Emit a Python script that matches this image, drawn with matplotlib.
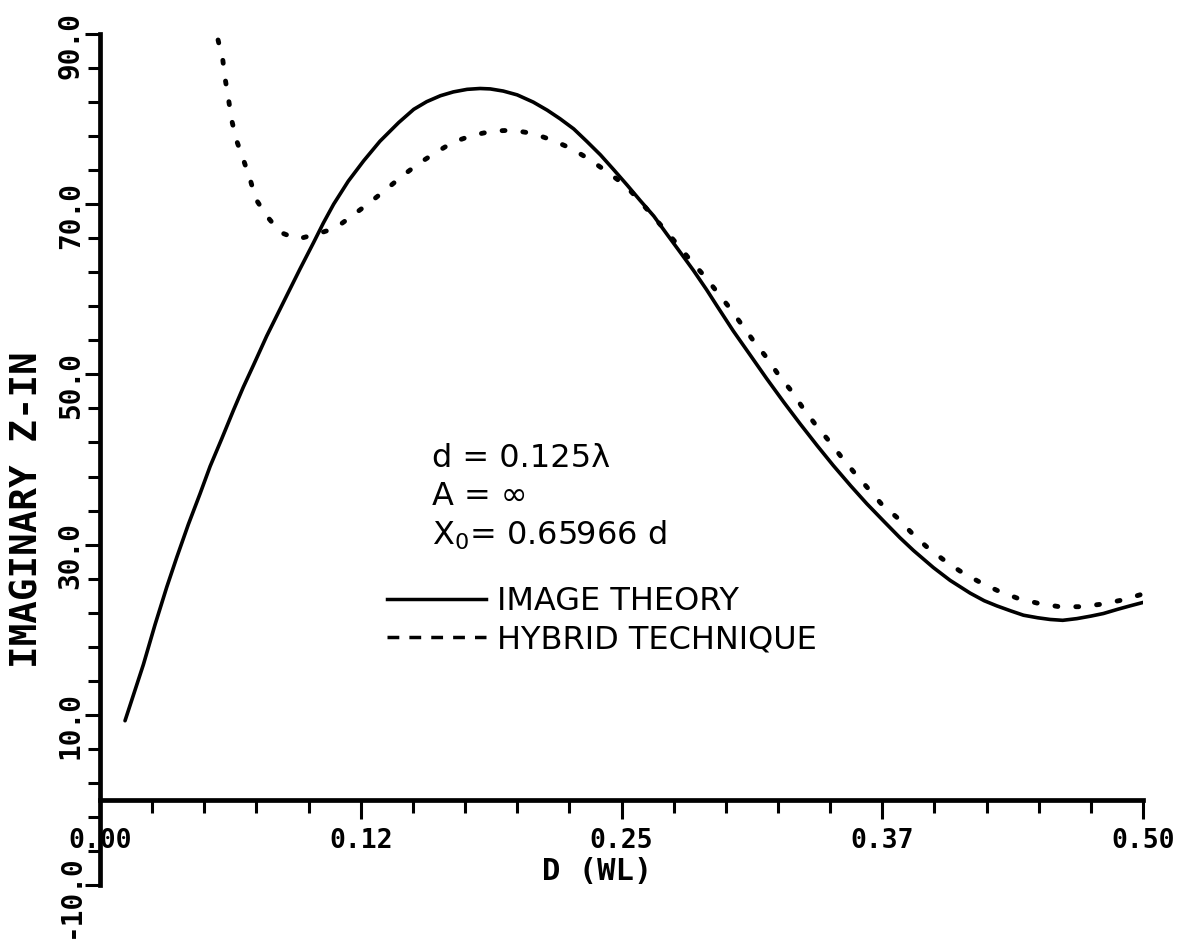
import matplotlib
matplotlib.use("Agg")
import matplotlib.pyplot as plt
from matplotlib.lines import Line2D
from matplotlib.transforms import ScaledTranslation
import numpy as np

# Imaginary input impedance versus spacing D (wavelengths)
image_x = [0.012, 0.016, 0.0208, 0.0264, 0.032, 0.0368, 0.0424, 0.048, 0.0528,
           0.0583, 0.064, 0.0687, 0.0736, 0.0799, 0.0896, 0.0959, 0.1024, 0.1071,
           0.112, 0.119, 0.1264, 0.1342, 0.1432, 0.1504, 0.1566, 0.1632, 0.1694,
           0.176, 0.1822, 0.1871, 0.1933, 0.200, 0.2077, 0.2144, 0.2205, 0.2271,
           0.2333, 0.2399, 0.2461, 0.2527, 0.2589, 0.2655, 0.2717, 0.2783, 0.2844,
           0.2908, 0.2959, 0.3036, 0.3119, 0.3196, 0.3279, 0.3356, 0.3439, 0.3515,
           0.3599, 0.3676, 0.3759, 0.3835, 0.390, 0.3995, 0.4075, 0.4171, 0.4239,
           0.4299, 0.4367, 0.4427, 0.4495, 0.4555, 0.4615, 0.4683, 0.4751, 0.4810,
           0.4879, 0.4938, 0.500]
image_y = [9.3, 12.3, 15.9, 20.6, 25.0, 28.5, 32.4, 36.0, 39.2,
           42.4, 45.8, 48.5, 51.1, 54.5, 59.3, 62.4, 65.5, 67.8,
           70.0, 72.7, 75.1, 77.4, 79.6, 81.15, 82.05, 82.75, 83.2,
           83.5, 83.6, 83.55, 83.3, 82.85, 82.0, 81.05, 80.05, 78.85,
           77.4, 75.8, 74.1, 72.25, 70.45, 68.6, 66.5, 64.3, 62.25,
           59.95, 58.0, 55.1, 52.2, 49.5, 46.7, 44.2, 41.6, 39.3,
           36.9, 34.8, 32.7, 30.8, 29.3, 27.3, 25.8, 24.3, 23.4,
           22.8, 22.2, 21.7, 21.4, 21.2, 21.1, 21.3, 21.6, 21.9,
           22.4, 22.8, 23.2]

hybrid_x = [0.0566, 0.0589, 0.0601, 0.0617, 0.0632, 0.0656, 0.0688, 0.0720, 0.0747,
            0.0800, 0.0864, 0.0947, 0.1040, 0.1129, 0.1212, 0.1288, 0.1365, 0.1443,
            0.1523, 0.1605, 0.1693, 0.1787, 0.1883, 0.1980, 0.2077, 0.2172, 0.2263,
            0.2351, 0.2431, 0.2514, 0.2580, 0.2672, 0.2767, 0.2831, 0.2896, 0.2958,
            0.3019, 0.3078, 0.3137, 0.3195, 0.3254, 0.3313, 0.3371, 0.3430, 0.3494,
            0.3554, 0.3618, 0.3682, 0.3745, 0.3820, 0.3890, 0.3960, 0.4039, 0.4122,
            0.4209, 0.4302, 0.4398, 0.4497, 0.4599, 0.4702, 0.4802, 0.4903, 0.500]
hybrid_y = [89.3, 86.9, 84.6, 82.2, 79.8, 77.4, 75.2, 72.9, 70.6,
            68.6, 66.7, 65.9, 66.5, 67.2, 68.7, 70.1, 71.6, 73.2,
            74.7, 76.0, 77.3, 78.1, 78.6, 78.7, 78.3, 77.5, 76.5,
            75.2, 73.8, 72.3, 70.6, 68.0, 65.3, 63.4, 61.6, 59.7,
            57.8, 55.8, 53.8, 52.0, 49.9, 48.1, 46.0, 44.1, 42.2,
            40.3, 38.4, 36.6, 34.8, 33.2, 31.4, 29.8, 28.3, 26.9,
            25.7, 24.6, 23.7, 23.1, 22.7, 22.7, 23.0, 23.5, 24.2]

xtick_values = [0.0, 0.125, 0.25, 0.375, 0.5]
xtick_labels = ["0.00", "0.12", "0.25", "0.37", "0.50"]
ytick_values = [-10, 10, 30, 50, 70, 90]
ytick_labels = ["-10.0", "10.0", "30.0", "50.0", "70.0", "90.0"]

series_labels = ["IMAGE THEORY", "HYBRID TECHNIQUE"]
note_lines = ["d = 0.125\u03bb", "A = \u221e", r"X$_{\mathregular{0}}$= 0.65966 d"]

mono = {"family": "DejaVu Sans Mono", "weight": "bold"}
letter = {"family": "DejaVu Sans"}

fig = plt.figure(figsize=(11.96, 9.48), dpi=100)
ax = fig.add_axes([0.0836, 0.0665, 0.8721, 0.8976])
ax.set_xlim(0, 0.5)
ax.set_ylim(-10, 90)

for side in ("top", "right"):
    ax.spines[side].set_visible(False)
ax.spines["bottom"].set_position(("data", 0))
for side in ("left", "bottom"):
    ax.spines[side].set_linewidth(3.4)

ax.plot(image_x, image_y, color="black", lw=2.6, solid_capstyle="round",
        solid_joinstyle="round")
ax.plot(hybrid_x, hybrid_y, color="black", lw=3.5,
        linestyle=(0, (0.6, 3.7)), dash_capstyle="round")

# ticks
ax.set_xticks(xtick_values, labels=xtick_labels)
ax.set_xticks(np.arange(0, 0.5001, 0.025), minor=True)
ax.set_yticks(ytick_values, labels=ytick_labels)
ax.set_yticks(np.arange(-10, 90.01, 4), minor=True)

ax.tick_params(axis="x", which="major", direction="out", length=14, width=2.2, pad=6)
ax.tick_params(axis="x", which="minor", direction="out", length=9, width=2.2)
ax.tick_params(axis="y", which="major", direction="out", length=11, width=2.2, pad=0)
ax.tick_params(axis="y", which="minor", direction="out", length=8.5, width=2.2)

for lab in ax.get_xticklabels():
    lab.set_fontproperties(mono)
    lab.set_fontsize(19)
shift = ScaledTranslation(0, -0.11, fig.dpi_scale_trans)
for lab in ax.get_yticklabels():
    lab.set_fontproperties(mono)
    lab.set_fontsize(20)
    lab.set_rotation(90)
    lab.set_verticalalignment("center")
    lab.set_transform(lab.get_transform() + shift)

fig.text(0.0234, 0.462, "IMAGINARY Z-IN", rotation=90, ha="center", va="center",
         fontsize=27, **mono)
fig.text(0.499, 0.0812, "D (WL)", ha="center", va="center", fontsize=22, **mono)

# parameter notes
note_base = [0.491, 0.4465, 0.3995]
for txt, yb in zip(note_lines, note_base):
    ax.text(0.318, yb, txt, transform=ax.transAxes, ha="left", va="baseline",
            fontsize=23, **letter)

handles = [Line2D([], [], color="black", lw=2.5),
           Line2D([], [], color="black", lw=2.5, linestyle=(0, (3.4, 2.9)))]
ax.legend(handles, series_labels, loc="upper left", bbox_to_anchor=(0.275, 0.351),
          bbox_transform=ax.transAxes, frameon=False, borderpad=0, borderaxespad=0,
          handlelength=3.1, handletextpad=0.35, labelspacing=0.22,
          prop={"family": "DejaVu Sans", "size": 23})

fig.savefig("out.png", dpi=100, facecolor="white")
